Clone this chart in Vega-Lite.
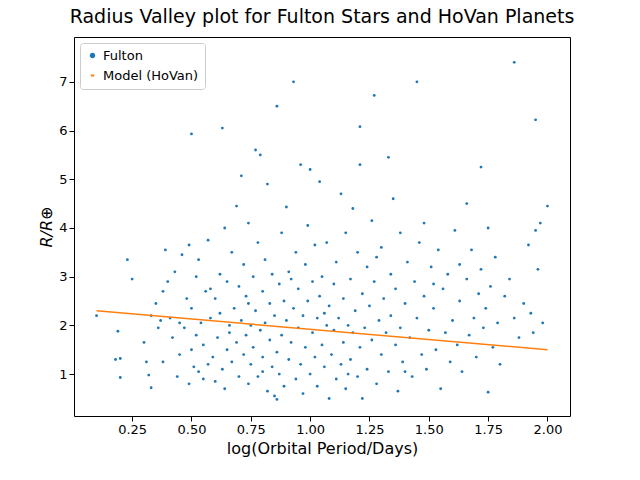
{
  "$schema": "https://vega.github.io/schema/vega-lite/v6.json",
  "width": 496,
  "height": 379,
  "padding": {"left": 38, "top": 8, "right": 10, "bottom": 5},
  "config": {
    "font": "DejaVu Sans",
    "view": {"stroke": "black"},
    "axis": {"grid": false, "domain": false, "tickColor": "black", "labelColor": "black", "labelFontSize": 13, "titleFontSize": 16, "titleFontWeight": "normal", "titleColor": "black"}
  },
  "title": {"text": "Radius Valley plot for Fulton Stars and HoVan Planets", "fontSize": 19, "fontWeight": "normal", "color": "black", "offset": 10},
  "datasets": {
    "stars": [
      {"x":0.1,"y":2.2},{"x":0.18,"y":1.3},{"x":0.2,"y":0.93},{"x":0.19,"y":1.88},{"x":0.2,"y":1.32},{"x":0.23,"y":3.35},{"x":0.25,"y":2.95},{"x":0.3,"y":1.65},{"x":0.31,"y":1.25},{"x":0.32,"y":0.98},{"x":0.33,"y":0.72},{"x":0.33,"y":2.2},
      {"x":0.35,"y":2.45},{"x":0.36,"y":1.95},{"x":0.37,"y":2.1},{"x":0.38,"y":2.7},{"x":0.38,"y":1.25},{"x":0.39,"y":3.55},{"x":0.4,"y":2.9},{"x":0.41,"y":2.15},{"x":0.42,"y":1.75},{"x":0.43,"y":3.1},{"x":0.44,"y":0.95},{"x":0.45,"y":1.4},
      {"x":0.46,"y":3.45},{"x":0.47,"y":1.95},{"x":0.48,"y":2.55},{"x":0.49,"y":3.65},{"x":0.49,"y":0.8},{"x":0.5,"y":5.93},{"x":0.5,"y":2.35},{"x":0.5,"y":1.5},{"x":0.51,"y":1.15},{"x":0.52,"y":3.0},{"x":0.52,"y":1.8},{"x":0.53,"y":1.05},{"x":0.53,"y":3.35},
      {"x":0.54,"y":2.05},{"x":0.55,"y":1.6},{"x":0.55,"y":0.9},{"x":0.56,"y":2.7},{"x":0.57,"y":3.75},{"x":0.57,"y":1.2},{"x":0.58,"y":2.15},{"x":0.59,"y":1.35},{"x":0.6,"y":2.55},{"x":0.6,"y":0.85},{"x":0.61,"y":1.75},{"x":0.62,"y":3.05},
      {"x":0.62,"y":2.25},{"x":0.63,"y":6.05},{"x":0.63,"y":1.1},{"x":0.64,"y":4.0},{"x":0.64,"y":0.7},{"x":0.65,"y":2.9},{"x":0.65,"y":1.5},{"x":0.66,"y":2.0},{"x":0.67,"y":3.5},{"x":0.67,"y":1.25},{"x":0.68,"y":2.35},{"x":0.69,"y":4.45},
      {"x":0.69,"y":1.65},{"x":0.7,"y":2.8},{"x":0.7,"y":0.95},{"x":0.71,"y":5.07},{"x":0.71,"y":2.1},{"x":0.72,"y":1.4},{"x":0.72,"y":3.25},{"x":0.73,"y":1.8},{"x":0.73,"y":2.6},{"x":0.74,"y":0.8},{"x":0.74,"y":4.1},{"x":0.75,"y":2.0},
      {"x":0.75,"y":1.2},{"x":0.76,"y":3.0},{"x":0.76,"y":1.55},{"x":0.77,"y":5.6},{"x":0.77,"y":2.3},{"x":0.78,"y":0.95},{"x":0.78,"y":3.7},{"x":0.79,"y":5.5},{"x":0.79,"y":1.9},{"x":0.8,"y":2.7},{"x":0.8,"y":1.35},{"x":0.81,"y":3.35},
      {"x":0.81,"y":2.05},{"x":0.82,"y":4.9},{"x":0.82,"y":0.65},{"x":0.83,"y":1.7},{"x":0.83,"y":2.45},{"x":0.84,"y":3.05},{"x":0.84,"y":1.15},{"x":0.85,"y":2.2},{"x":0.85,"y":0.55},{"x":0.86,"y":6.5},{"x":0.86,"y":0.48},{"x":0.86,"y":1.45},
      {"x":0.87,"y":2.85},{"x":0.87,"y":1.0},{"x":0.88,"y":3.9},{"x":0.88,"y":1.8},{"x":0.89,"y":2.5},{"x":0.89,"y":0.75},{"x":0.9,"y":4.43},{"x":0.9,"y":2.1},{"x":0.91,"y":1.3},{"x":0.91,"y":3.1},{"x":0.92,"y":1.65},{"x":0.93,"y":7.0},
      {"x":0.93,"y":2.35},{"x":0.94,"y":0.9},{"x":0.94,"y":3.5},{"x":0.95,"y":1.95},{"x":0.95,"y":2.75},{"x":0.96,"y":5.3},{"x":0.96,"y":1.2},{"x":0.97,"y":2.2},{"x":0.97,"y":0.6},{"x":0.98,"y":3.25},{"x":0.98,"y":1.55},{"x":0.99,"y":4.05},
      {"x":0.99,"y":2.5},{"x":1.0,"y":5.2},{"x":1.0,"y":1.0},{"x":1.01,"y":1.85},{"x":1.01,"y":2.9},{"x":1.02,"y":3.65},{"x":1.02,"y":1.35},{"x":1.03,"y":2.15},{"x":1.03,"y":0.75},{"x":1.04,"y":4.95},{"x":1.04,"y":2.6},{"x":1.05,"y":1.6},
      {"x":1.05,"y":3.0},{"x":1.06,"y":1.15},{"x":1.07,"y":2.0},{"x":1.07,"y":3.7},{"x":1.08,"y":0.5},{"x":1.08,"y":2.4},{"x":1.09,"y":1.4},{"x":1.1,"y":2.85},{"x":1.1,"y":1.9},{"x":1.11,"y":0.9},{"x":1.11,"y":3.3},{"x":1.12,"y":2.15},
      {"x":1.13,"y":4.7},{"x":1.13,"y":1.2},{"x":1.14,"y":2.55},{"x":1.14,"y":1.65},{"x":1.15,"y":3.9},{"x":1.15,"y":0.7},{"x":1.16,"y":2.0},{"x":1.17,"y":2.95},{"x":1.17,"y":1.3},{"x":1.18,"y":4.4},{"x":1.18,"y":1.85},{"x":1.19,"y":2.3},
      {"x":1.2,"y":0.95},{"x":1.2,"y":3.5},{"x":1.21,"y":6.08},{"x":1.21,"y":5.3},{"x":1.21,"y":1.55},{"x":1.22,"y":0.5},{"x":1.22,"y":2.65},{"x":1.23,"y":1.95},{"x":1.24,"y":3.2},{"x":1.24,"y":1.1},{"x":1.25,"y":2.4},{"x":1.26,"y":4.15},
      {"x":1.26,"y":1.7},{"x":1.27,"y":6.72},{"x":1.27,"y":2.9},{"x":1.28,"y":0.8},{"x":1.29,"y":2.1},{"x":1.3,"y":3.6},{"x":1.3,"y":1.4},{"x":1.31,"y":2.55},{"x":1.32,"y":1.85},{"x":1.33,"y":5.45},{"x":1.33,"y":1.05},{"x":1.34,"y":3.05},
      {"x":1.34,"y":2.2},{"x":1.35,"y":4.6},{"x":1.36,"y":1.6},{"x":1.36,"y":2.75},{"x":1.37,"y":0.65},{"x":1.38,"y":3.9},{"x":1.38,"y":1.95},{"x":1.39,"y":1.25},{"x":1.4,"y":2.45},{"x":1.41,"y":3.3},{"x":1.42,"y":1.75},{"x":1.43,"y":0.95},
      {"x":1.44,"y":2.9},{"x":1.45,"y":7.0},{"x":1.45,"y":2.15},{"x":1.46,"y":3.7},{"x":1.47,"y":1.4},{"x":1.48,"y":4.1},{"x":1.48,"y":2.6},{"x":1.49,"y":1.1},{"x":1.5,"y":1.9},{"x":1.51,"y":3.2},{"x":1.52,"y":2.35},{"x":1.53,"y":1.5},
      {"x":1.54,"y":3.55},{"x":1.55,"y":0.7},{"x":1.56,"y":2.75},{"x":1.57,"y":1.85},{"x":1.58,"y":3.05},{"x":1.59,"y":1.25},{"x":1.6,"y":2.1},{"x":1.61,"y":3.95},{"x":1.62,"y":1.6},{"x":1.63,"y":2.5},{"x":1.64,"y":1.05},{"x":1.66,"y":4.5},
      {"x":1.66,"y":2.95},{"x":1.67,"y":1.8},{"x":1.68,"y":3.55},{"x":1.69,"y":2.15},{"x":1.7,"y":1.35},{"x":1.71,"y":2.65},{"x":1.72,"y":5.25},{"x":1.72,"y":3.15},{"x":1.73,"y":1.95},{"x":1.74,"y":2.35},{"x":1.75,"y":0.63},{"x":1.75,"y":4.0},
      {"x":1.76,"y":2.8},{"x":1.77,"y":1.55},{"x":1.78,"y":3.4},{"x":1.79,"y":2.05},{"x":1.8,"y":1.2},{"x":1.82,"y":2.6},{"x":1.84,"y":2.95},{"x":1.86,"y":7.4},{"x":1.86,"y":2.15},{"x":1.88,"y":1.75},{"x":1.9,"y":2.45},{"x":1.92,"y":3.65},
      {"x":1.93,"y":2.25},{"x":1.94,"y":1.85},{"x":1.95,"y":6.22},{"x":1.95,"y":3.95},{"x":1.96,"y":3.15},{"x":1.97,"y":4.1},{"x":1.98,"y":2.05},{"x":2.0,"y":4.45},
      {"x":0.45,"y":2.05},{"x":0.58,"y":2.75},{"x":0.66,"y":1.85},{"x":0.74,"y":2.45},{"x":0.8,"y":1.05},{"x":0.92,"y":2.95},{"x":1.06,"y":2.25},{"x":1.16,"y":1.0},{"x":1.28,"y":3.4},{"x":1.4,"y":1.05},{"x":1.52,"y":2.85},{"x":1.63,"y":3.25}
    ],
    "model": [
      {"x":0.1,"y":2.3},{"x":2.0,"y":1.5}
    ]
  },
  "layer": [
    {
      "data": {"name": "stars"},
      "transform": [{"calculate": "'Fulton'", "as": "series"}],
      "mark": {"type": "point", "filled": true, "size": 8, "opacity": 1},
      "encoding": {
        "x": {"field": "x", "type": "quantitative", "scale": {"domain": [0.005, 2.095], "nice": false, "zero": false}, "axis": {"values": [0.25, 0.5, 0.75, 1.0, 1.25, 1.5, 1.75, 2.0], "format": ".2f", "title": "log(Orbital Period/Days)"}},
        "y": {"field": "y", "type": "quantitative", "scale": {"domain": [0.14, 7.92], "nice": false, "zero": false}, "axis": {"values": [1, 2, 3, 4, 5, 6, 7], "title": "R/R⊕", "titleFontStyle": "italic"}},
        "color": {"field": "series", "type": "nominal", "scale": {"domain": ["Fulton", "Model (HoVan)"], "range": ["#1f77b4", "#ff7f0e"]},
          "legend": {"title": null, "orient": "top-left", "strokeColor": "#cccccc", "fillColor": "white", "padding": 6, "cornerRadius": 3, "labelFontSize": 13, "symbolSize": 12, "symbolStrokeWidth": 2, "offset": 6, "rowPadding": 6}},
        "shape": {"field": "series", "type": "nominal", "scale": {"domain": ["Fulton", "Model (HoVan)"], "range": ["circle", "stroke"]}, "legend": null}
      }
    },
    {
      "data": {"name": "model"},
      "transform": [{"calculate": "'Model (HoVan)'", "as": "series"}],
      "mark": {"type": "line", "strokeWidth": 1.5},
      "encoding": {
        "x": {"field": "x", "type": "quantitative"},
        "y": {"field": "y", "type": "quantitative"},
        "color": {"field": "series", "type": "nominal"}
      }
    }
  ]
}
